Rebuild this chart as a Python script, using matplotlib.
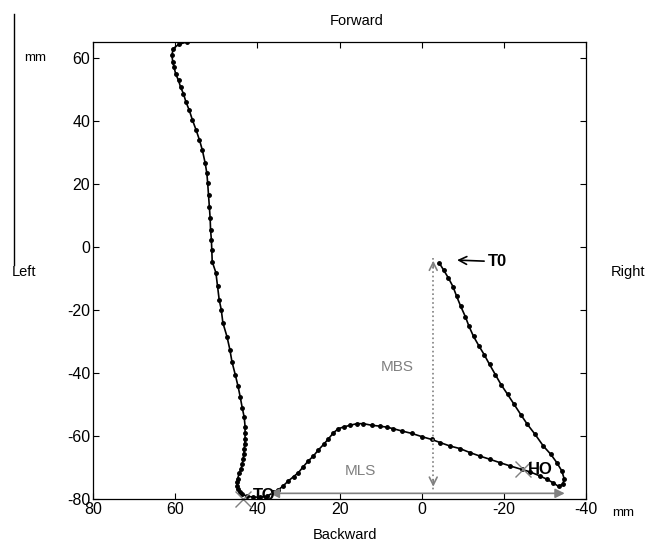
import numpy as np
import matplotlib.pyplot as plt
from matplotlib.lines import Line2D

plt.rcParams['font.family'] = ['Liberation Sans', 'DejaVu Sans']
plt.rcParams['axes.unicode_minus'] = False

# centre of pressure path, from T0 down the right side, back through HO and TO, up the left side
path_x = [-4.3, -5.3, -6.5, -7.6, -8.5, -9.5, -10.6, -11.5, -12.6, -14.0, -15.2, -16.5,
          -17.9, -19.3, -20.9, -22.5, -24.1, -25.7, -27.6, -29.6, -31.4, -32.9, -34.1,
          -34.7, -34.3, -33.3, -31.9, -30.4, -28.8, -26.4, -24.3, -21.5, -19.1, -16.6,
          -14.2, -11.8, -9.3, -6.9, -4.5, -2.4, 0.0, 2.4, 4.9, 6.9, 8.5, 10.1, 12.2,
          14.2, 15.8, 17.4, 18.9, 20.3, 21.5, 22.7, 23.9, 25.2, 26.4, 27.6, 28.8, 30.0,
          31.2, 32.5, 33.7, 34.9, 36.1, 37.6, 39.3, 41.0, 42.5, 43.7, 44.3, 44.7, 44.9,
          44.9, 44.8, 44.4, 44.0, 43.7, 43.5, 43.3, 43.2, 43.1, 43.0, 43.0, 43.0, 43.2,
          43.7, 44.2, 44.7, 45.4, 46.2, 46.7, 47.4, 48.4, 48.8, 49.3, 49.7, 50.1, 51.0,
          51.1, 51.2, 51.4, 51.5, 51.7, 51.9, 52.1, 52.3, 52.7, 53.4, 54.1, 54.9, 55.8,
          56.6, 57.4, 58.0, 58.7, 59.2, 59.9, 60.3, 60.6, 60.8, 60.5, 59.2, 57.2]
path_y = [-5.2, -7.3, -9.9, -12.6, -15.7, -18.9, -22.1, -25.2, -28.4, -31.6, -34.2, -37.3,
          -40.5, -43.7, -46.8, -50.0, -53.2, -56.3, -59.5, -63.2, -65.8, -68.5, -71.1,
          -73.7, -75.3, -76.0, -74.8, -73.7, -72.7, -71.4, -70.6, -69.5, -68.5, -67.4,
          -66.4, -65.3, -64.0, -63.2, -62.1, -61.1, -60.2, -59.2, -58.4, -57.7, -57.2,
          -56.9, -56.6, -56.1, -56.1, -56.6, -57.1, -57.7, -59.0, -60.9, -62.7, -64.5,
          -66.4, -67.9, -69.7, -71.6, -72.9, -74.3, -75.8, -77.1, -77.9, -79.1, -79.4,
          -79.4, -79.1, -78.5, -77.8, -76.9, -75.8, -74.7, -73.5, -71.7, -70.6, -69.0,
          -67.4, -65.8, -64.2, -62.6, -61.0, -59.0, -57.0, -54.1, -51.0, -47.5, -44.3,
          -40.5, -36.4, -32.6, -28.5, -24.1, -19.9, -16.8, -12.5, -8.2, -4.7, -0.9, 2.2,
          5.4, 9.1, 12.8, 16.5, 20.2, 23.3, 26.5, 30.7, 33.9, 37.0, 40.2, 43.4, 46.0,
          48.6, 50.7, 52.8, 54.9, 57.1, 58.6, 60.8, 62.9, 64.2, 65.0]

# gait events (x, y)
ho_point = (-24.7, -70.6)
to_point = (43.5, -80.0)
t0_point = (-8.6, -4.2)

# MBS / MLS distances
mbs_x = -2.8
mbs_y = (-3.5, -77.0)
mls_y = -78.2
mls_x = (37.0, -34.8)

xticks = [80, 60, 40, 20, 0, -20, -40]
yticks = [-80, -60, -40, -20, 0, 20, 40, 60]

fig = plt.figure(figsize=(6.6, 5.48), dpi=100)
ax = fig.add_axes([0.141, 0.0894, 0.747, 0.834])

ax.plot(path_x, path_y, color='black', lw=1.2, marker='.', markersize=5)

ax.plot(*ho_point, marker='x', color='gray', markersize=11, mew=1.0, clip_on=False)
ax.plot(*to_point, marker='x', color='gray', markersize=11, mew=1.0, clip_on=False)

# MBS dotted double arrow
ax.plot([mbs_x, mbs_x], mbs_y, color='gray', ls=':', lw=1.2)
ax.annotate('', xy=(mbs_x, mbs_y[0]), xytext=(mbs_x, mbs_y[0] - 4),
            arrowprops=dict(arrowstyle='->', color='gray', lw=1.2, mutation_scale=14))
ax.annotate('', xy=(mbs_x, mbs_y[1]), xytext=(mbs_x, mbs_y[1] + 4),
            arrowprops=dict(arrowstyle='->', color='gray', lw=1.2, mutation_scale=14))

# MLS arrow
ax.annotate('', xy=(mls_x[1], mls_y), xytext=(mls_x[0], mls_y),
            arrowprops=dict(arrowstyle='<|-|>', color='gray', lw=1.2, mutation_scale=14,
                            shrinkA=0, shrinkB=0))

ax.annotate('T0', xy=t0_point, xytext=(-16.2, -4.7), fontsize=12, fontweight='bold',
            ha='left', va='center',
            arrowprops=dict(arrowstyle='->', color='black', lw=1.2, mutation_scale=14,
                            shrinkA=1, shrinkB=0))
ax.text(-28.8, -70.6, 'HO', fontsize=12, fontweight='bold', ha='center', va='center')
ax.text(38.4, -78.8, 'TO', fontsize=12, fontweight='bold', ha='center', va='center')
ax.text(6.0, -38.0, 'MBS', fontsize=11, color='gray', ha='center', va='center')
ax.text(15.0, -71.2, 'MLS', fontsize=11, color='gray', ha='center', va='center')

ax.set_xlim(80, -40)
ax.set_ylim(-80, 65)
ax.set_xticks(xticks)
ax.set_yticks(yticks)
ax.tick_params(direction='in', length=4, width=0.8, top=True, right=True,
               labelsize=11.5, pad=2)
for s in ax.spines.values():
    s.set_linewidth(0.9)

fig.text(0.541, 0.962, 'Forward', fontsize=10.5, ha='center', va='center')
fig.text(0.523, 0.024, 'Backward', fontsize=10.5, ha='center', va='center')
fig.text(0.018, 0.504, 'Left', fontsize=10.5, ha='left', va='center')
fig.text(0.926, 0.504, 'Right', fontsize=10.5, ha='left', va='center')
fig.text(0.036, 0.894, 'mm', fontsize=9.5, ha='left', va='center')
fig.text(0.928, 0.064, 'mm', fontsize=9.5, ha='left', va='center')
fig.add_artist(Line2D([0.021, 0.021], [0.974, 0.516], color='black', lw=1.0))

fig.savefig('out.png', dpi=100)
